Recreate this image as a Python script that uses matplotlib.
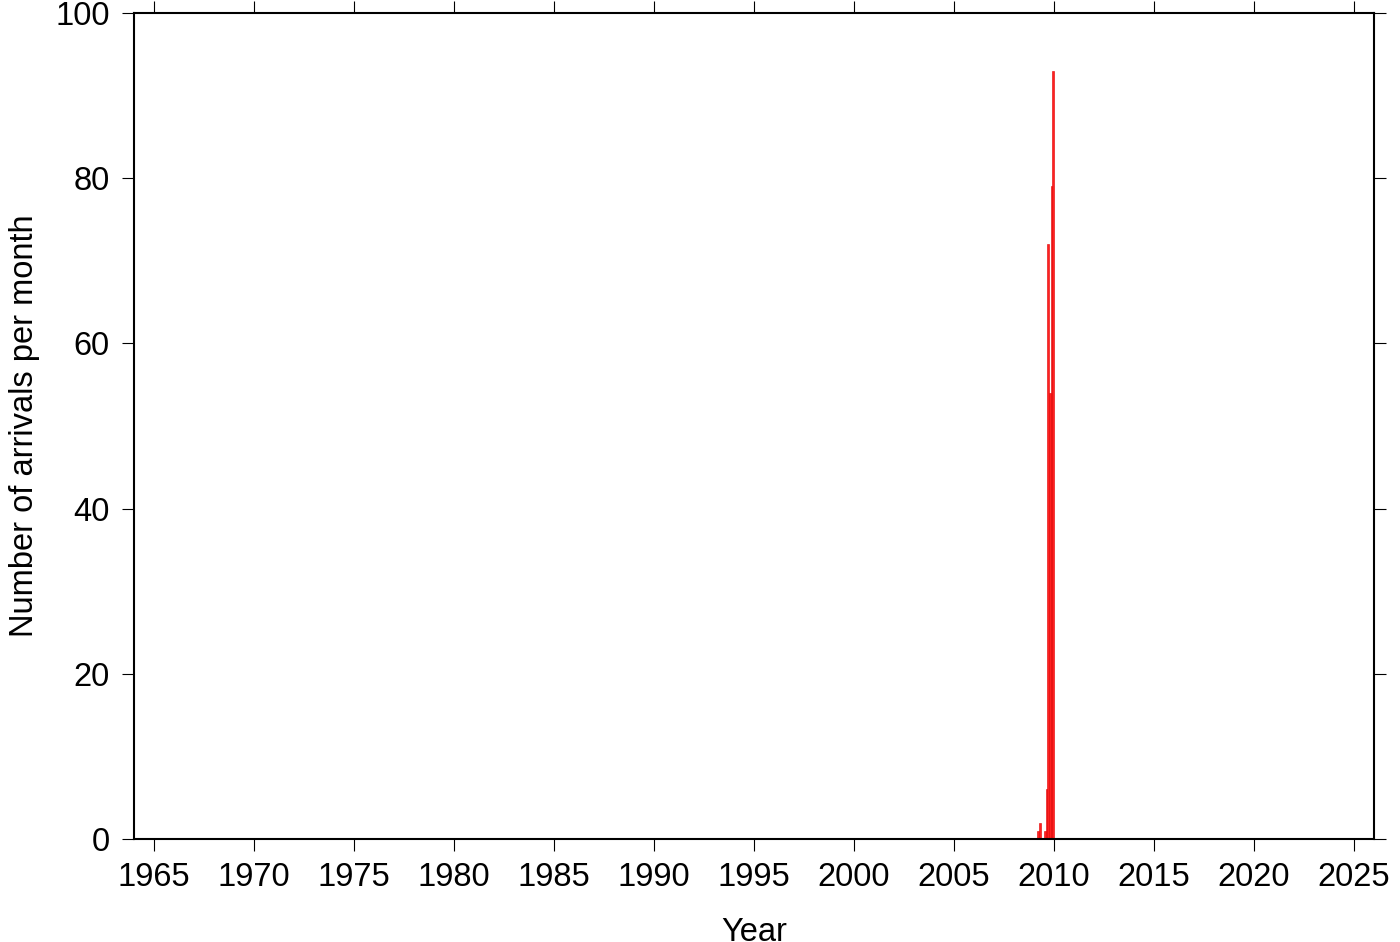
import matplotlib.pyplot as plt
import numpy as np

plt.rcParams.update({'font.family': ['Liberation Sans', 'DejaVu Sans']})
plt.rcParams.update({'font.size': 23.5})

# monthly counts (2009)
bar_year = [2009, 2009, 2009, 2009, 2009, 2009, 2009, 2009]
bar_month = [3, 4, 7, 8, 9, 10, 11, 12]
bar_count = [1, 2, 1, 6, 72, 54, 79, 93]

x_ticks = list(range(1965, 2030, 5))
y_ticks = [0, 20, 40, 60, 80, 100]

t = np.array(bar_year) + (np.array(bar_month) - 1) / 12.0

fig = plt.figure(figsize=(14, 9.42), dpi=100)
ax = fig.add_axes([0.0957, 0.1093, 0.8857, 0.8769])

ax.bar(t, bar_count, width=1/12.0, align='edge', color='#ff2020',
       edgecolor='#e00000', linewidth=0.4)

ax.set_xlim(1964, 2026)
ax.set_ylim(0, 100)
ax.set_xticks(x_ticks)
ax.set_yticks(y_ticks)
ax.tick_params(direction='out', length=8.6, width=0.8, top=True, right=True,
               labeltop=False, labelright=False)
ax.tick_params(axis='x', pad=8)
ax.tick_params(axis='y', pad=9)
for sp in ax.spines.values():
    sp.set_linewidth(1.5)

ax.set_xlabel('Year', labelpad=17)
ax.set_ylabel('Number of arrivals per month', labelpad=11)

plt.savefig('out.png', dpi=100)
